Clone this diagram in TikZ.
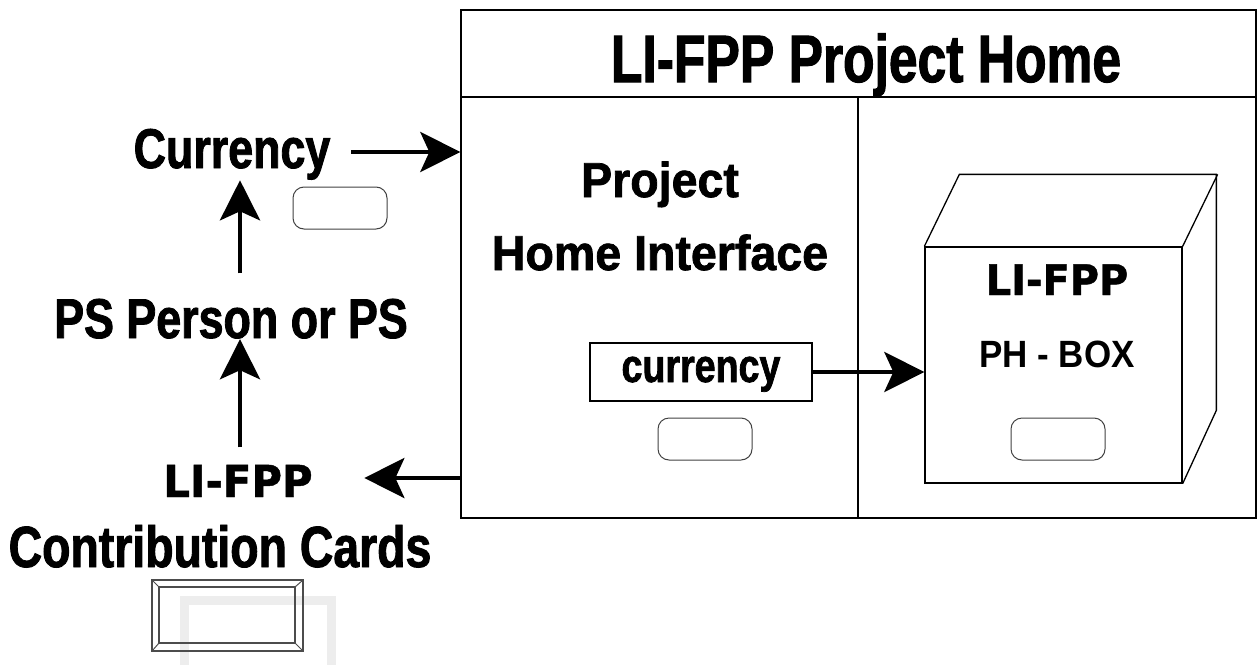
\documentclass[tikz,border=0pt]{standalone}
\usepackage{fontspec}
\setmainfont{Liberation Sans}
\newfontfamily\condfont[FakeStretch=0.8,FakeBold=1.5]{Liberation Sans Bold}
\newfontfamily\titlefont[FakeStretch=0.77,FakeBold=1.5]{Liberation Sans Bold}
\newfontfamily\roundfont[FakeStretch=0.95,FakeBold=1.5]{Liberation Sans Bold}
\newfontfamily\plainfont[FakeStretch=0.92]{Liberation Sans Bold}
\newfontfamily\widefont[FakeStretch=0.95,FakeBold=1]{DejaVu Sans Bold}
\usetikzlibrary{arrows.meta,positioning}

\begin{document}
\begin{tikzpicture}[x=1pt, y=-1pt, line width=1.3pt,
    label/.style = {inner sep=0pt, anchor=base, font=\condfont\fontsize{#1}{#1}\selectfont},
    wide/.style = {inner sep=0pt, anchor=base, font=\widefont\fontsize{#1}{#1}\selectfont},
    slot/.style = {draw, line width=1pt, black!75, rounded corners=11pt, minimum width=94pt, minimum height=42pt},
    arr/.style = {line width=4.8pt, -{Stealth[length=40pt, width=40pt, inset=9pt]}}]
    \useasboundingbox (0,0) rectangle (1257,664);

    % project home frame
    \node[draw, minimum width=795pt, minimum height=508pt] (home) at (858.5,264) {};
    \draw (home.west |- 0,97) -- (home.east |- 0,97);
    \draw (858,97) -- (home.south -| 858,0);
    \node[label=58, font=\titlefont\fontsize{67}{67}\selectfont] (title) at (866,82) {LI-FPP Project Home};
    \node[label=50, font=\roundfont\fontsize{49}{49}\selectfont] (proj) at (660,197) {Project};
    \node[label=50, font=\roundfont\fontsize{49}{49}\selectfont] (iface) at (660,270) {Home Interface};
    \node[draw, minimum width=222pt, minimum height=58pt] (curbox) at (701,372) {};
    \node[label=47] (curtext) at (701,382) {currency};
    \node[slot] (slot1) at (705,439) {};

    % ph box
    \node[draw, minimum width=257pt, minimum height=236pt] (phbox) at (1053.5,365) {};
    \draw (phbox.north west) -- ++(35,-72) -- ++(257,0) -- ++(0,236) -- (phbox.south east);
    \draw (phbox.north east) -- ++(35,-72);
    \node[wide=42] (boxname) at (1057,295) {LI-FPP};
    \node[font=\plainfont\fontsize{38}{38}\selectfont, inner sep=0pt, anchor=base] (boxsub) at (1057,367) {PH - BOX};
    \node[slot] (slot2) at (1058,439) {};

    % left side
    \coordinate (spine) at (240,0);
    \node[label=56] (currency) at (232,168) {Currency};
    \node[slot] (slot0) at (340,208) {};
    \node[label=56] (ps) at (231,338) {PS Person or PS};
    \node[wide=44] (cards) at (238,497) {LI-FPP};
    \node[label=58] (contrib) at (220,567) {Contribution Cards};

    % card icon
    \draw[line width=9pt, black!7] (184,600) rectangle (331,670);
    \draw[line width=1.2pt, black!70] (152,580) rectangle (303,651);
    \draw[line width=1.2pt, black!70] (159,587) rectangle (295,643);
    \draw[line width=1pt, black!70] (152,580) -- (159,587) (303,580) -- (295,587)
        (152,651) -- (159,643) (303,651) -- (295,643);

    % connectors
    \draw[arr] (currency.east |- 0,152) ++(20,0) -- (home.west |- 0,152);
    \draw[arr] (ps.north -| spine) ++(0,-25) -- (currency.south -| spine);
    \draw[arr] (cards.north -| spine) ++(0,-17) -- (ps.south -| spine);
    \draw[arr] (home.west |- 0,478) -- ++(-96,0);
    \draw[arr] (curbox.east) -- (phbox.west |- curbox.east);
\end{tikzpicture}
\end{document}
